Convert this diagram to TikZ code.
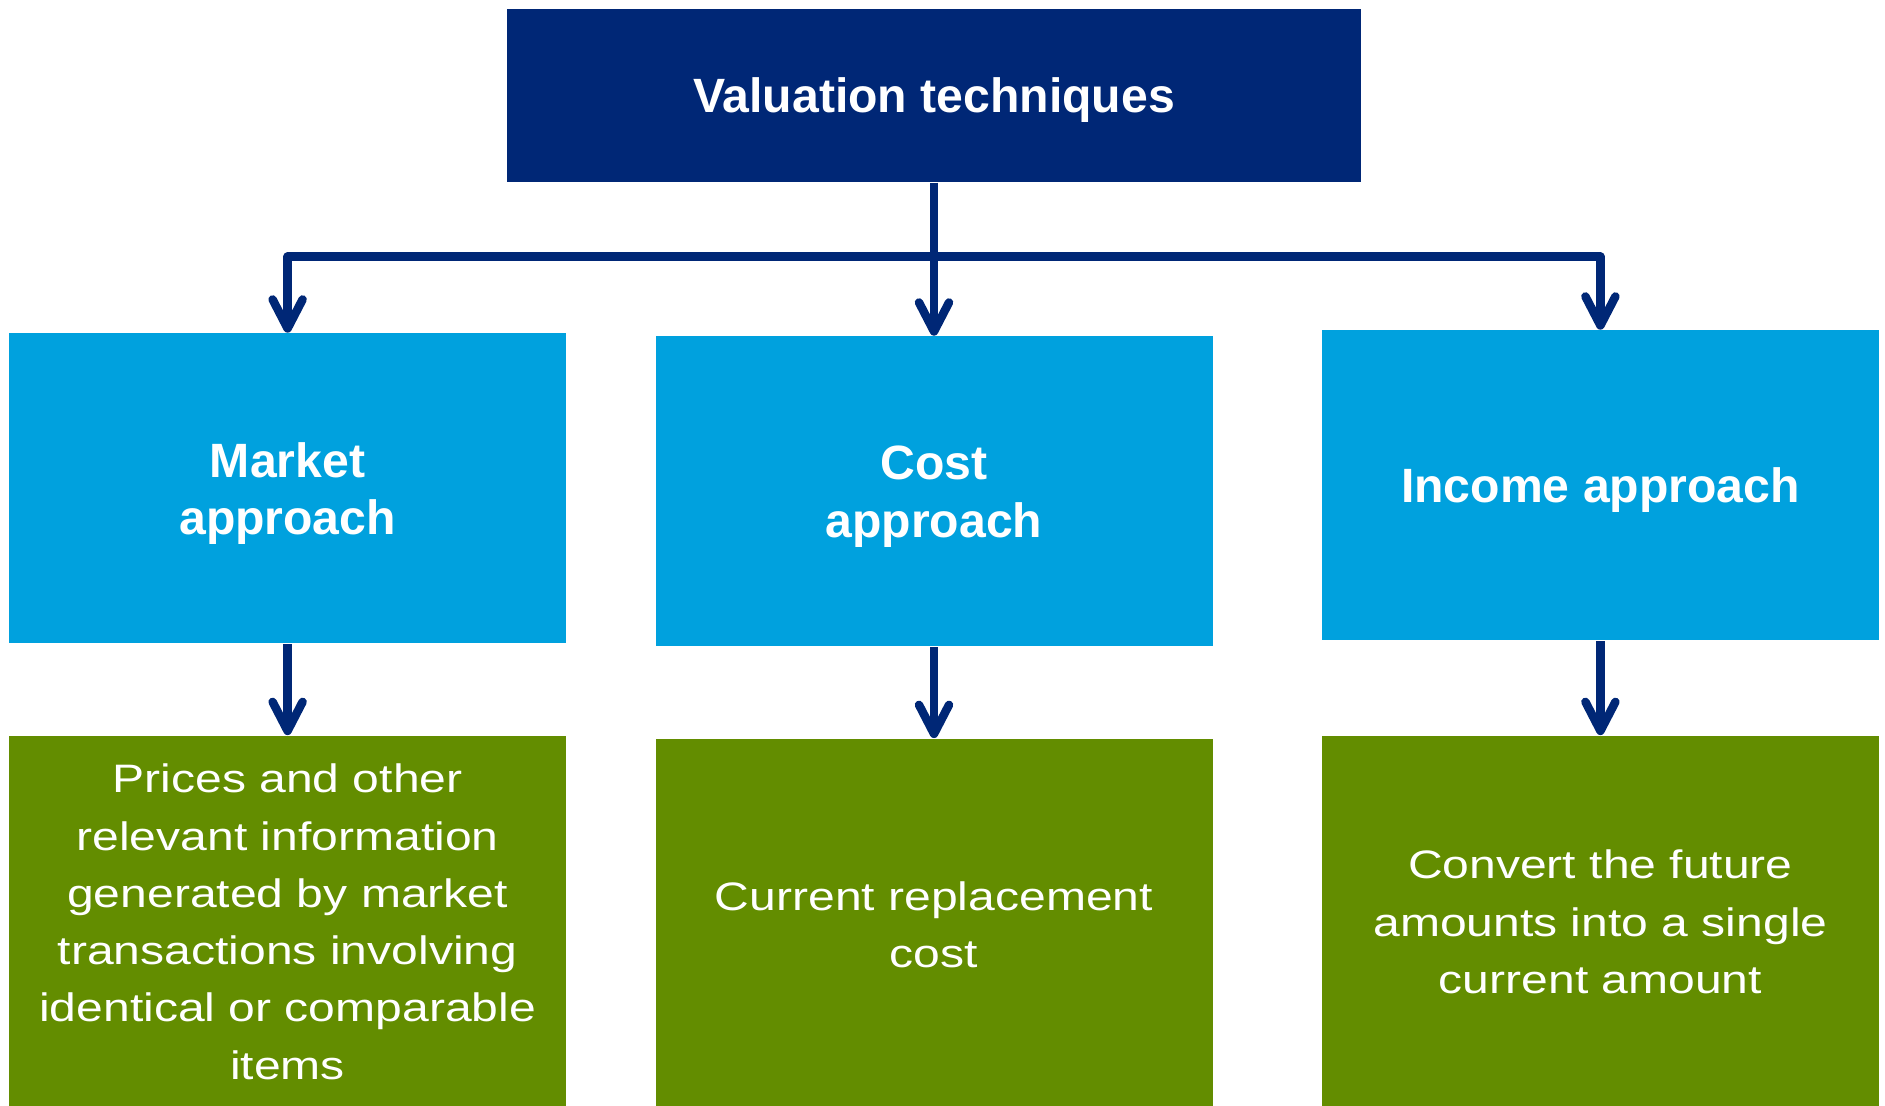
\documentclass[tikz,border=0pt]{standalone}
\usepackage{fontspec}
\setmainfont{Liberation Sans}
\newfontfamily\widefont[FakeStretch=1.21]{Liberation Sans}
\usepackage{xcolor}
\definecolor{navy}{RGB}{0,39,118}
\definecolor{sky}{RGB}{0,161,222}
\definecolor{leaf}{RGB}{99,141,0}
\usetikzlibrary{
arrows.meta,
positioning
}

\begin{document}
\begin{tikzpicture}[
    >={Straight Barb[length=2.9mm,width=3.0mm,round]},
    every node/.style={inner sep=0pt, align=center, text=white},
    head/.style={fill=navy, minimum width=8.54cm, minimum height=1.73cm,
      text depth=0pt, font=\bfseries\fontsize{13.7}{16.4}\selectfont},
    approach/.style={fill=sky, minimum width=5.57cm, minimum height=3.1cm,
      text depth=0pt, font=\bfseries\fontsize{13.7}{16.4}\selectfont},
    detail/.style={fill=leaf, minimum width=5.57cm, minimum height=3.72cm,
      font=\widefont\fontsize{11.3}{16.3}\selectfont},
    link/.style={draw=navy, line width=0.085cm, line join=round}]
  \useasboundingbox (0,0) rectangle (18.85,-11.05);
  \node[head] (title) at (9.34,-0.955) {Valuation techniques};
  \node[approach, below=1.53cm of title] (cost) {Cost\\approach};
  \node[approach, left=0.88cm of cost, yshift=0.03cm] (market) {Market\\approach};
  \node[approach, right=1.08cm of cost, yshift=0.06cm] (income) {Income approach};
  \node[detail, below=0.91cm of market] (prices)
    {Prices and other\\relevant information\\generated by market\\transactions involving\\identical or comparable\\items};
  \node[detail, below=0.91cm of cost] (replace) {Current replacement\\cost};
  \node[detail, below=0.94cm of income] (convert)
    {Convert the future\\amounts into a single\\current amount};
  \coordinate[below=0.74cm of title] (split);
  \draw[link] (title.south) -- (split);
  \draw[link, ->] (split) -| (market.north);
  \draw[link, ->] (split) -- (cost.north);
  \draw[link, ->] (split) -| (income.north);
  \draw[link, ->] (market) -- (prices);
  \draw[link, ->] (cost) -- (replace);
  \draw[link, ->] (income) -- (convert);
\end{tikzpicture}
\end{document}
